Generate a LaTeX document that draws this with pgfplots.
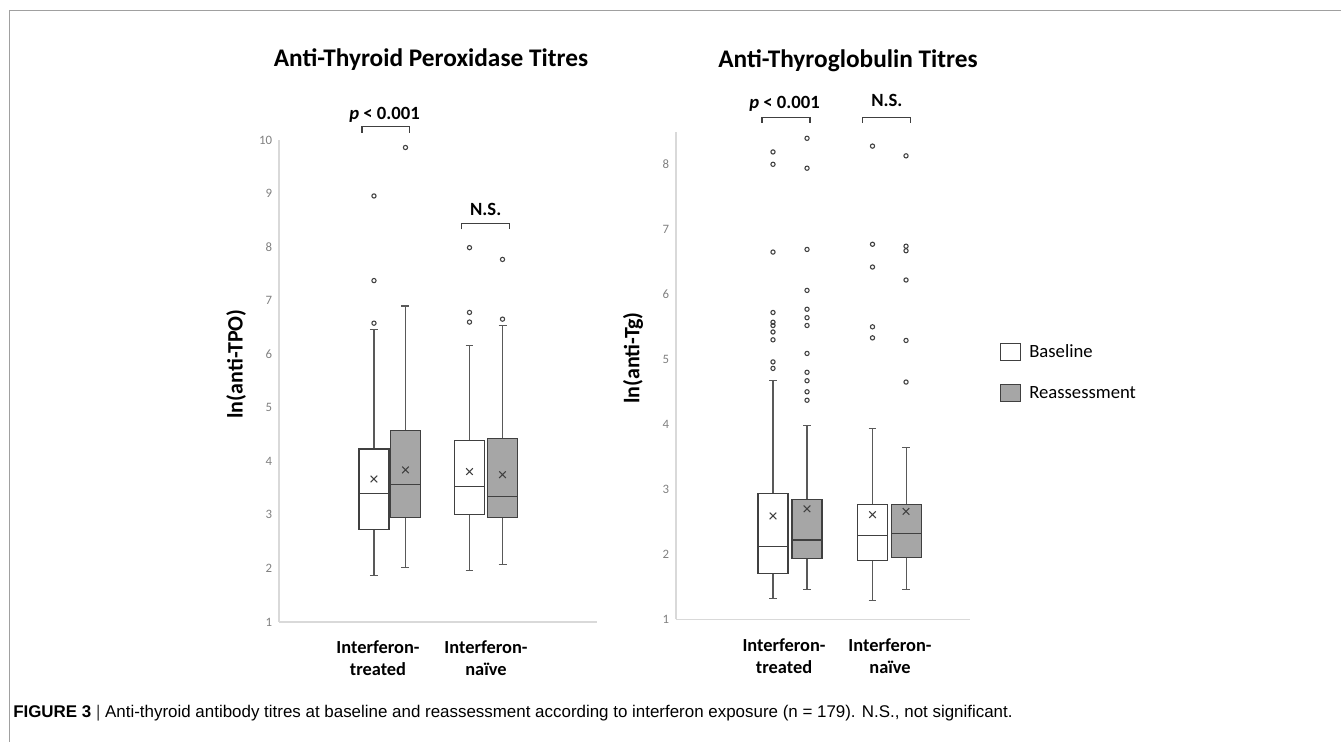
\documentclass[border=0pt]{standalone}
\usepackage{pgfplots}
\pgfplotsset{compat=1.18}
\usepgfplotslibrary{statistics}
\usepackage{fontspec}
\setmainfont{Carlito}
\newfontfamily\capfont{Liberation Sans}
\definecolor{axisgray}{HTML}{D9D9D9}
\definecolor{tickgray}{HTML}{808080}
\definecolor{boxline}{HTML}{404040}
\definecolor{whisk}{HTML}{595959}
\definecolor{refill}{HTML}{A6A6A6}
\definecolor{framegray}{HTML}{A0A0A0}

\pgfplotsset{
  sqlegend/.style={legend image code/.code={\draw[##1,line width=0.8pt] (0pt,-6.4pt) rectangle (15pt,6.4pt);}},
  myax/.style={
    scale only axis, clip=false,
    axis x line*=bottom, axis y line*=left,
    axis line style={draw=axisgray, line width=0.9pt},
    major tick length=0pt,
    /pgf/number format/assume math mode=true,
    yticklabel style={font=\fontsize{9.6}{11}\selectfont, text=tickgray, inner sep=0pt, xshift=-5pt},
    xticklabel style={font=\bfseries\fontsize{13.8}{16.5}\selectfont, align=center, inner sep=0pt, yshift=-14pt, anchor=north},
    title style={font=\bfseries\fontsize{19}{23}\selectfont, anchor=base},
    boxplot/draw direction=y,
    boxplot/every average/.style={/tikz/mark=x, /tikz/mark size=3.5pt, /tikz/mark options={draw=boxline, line width=0.65pt}},
    boxplot/every whisker/.style={draw=whisk},
    boxplot/every median/.style={draw=boxline},
  },
  bl/.style={boxplot prepared={#1}, draw=boxline, line width=0.8pt, mark=o, mark size=1.6pt,
    mark options={draw=boxline, line width=0.8pt, fill=none}, forget plot,
    boxplot/every box/.style={draw=boxline, fill=white}},
  re/.style={boxplot prepared={#1}, draw=boxline, line width=0.8pt, mark=o, mark size=1.6pt,
    mark options={draw=boxline, line width=0.8pt, fill=none}, forget plot,
    boxplot/every box/.style={draw=boxline, fill=refill}},
}

\begin{document}
\begin{tikzpicture}
\path[use as bounding box] (0pt,0pt) rectangle (1005.75pt,556.5pt);
\draw[framegray, line width=1pt] (6.75pt,548.6pt) -- (1005.75pt,548.6pt);
\draw[framegray, line width=1pt] (7.1pt,549.1pt) -- (7.1pt,0pt);

% ---------------- Left: anti-TPO ----------------
\begin{axis}[myax,
  at={(209.25pt,90pt)}, anchor=south west,
  width=238.5pt, height=361.5pt,
  xmin=-0.15625, xmax=3.15625, ymin=1, ymax=10,
  ytick={1,2,...,10},
  xtick={0.875,2},
  xticklabels={Interferon-\\treated, Interferon-\\naïve},
  title={Anti-Thyroid Peroxidase Titres},
  title style={at={(0.478,1.135)}},
  ylabel={ln(anti-TPO)},
  every axis y label/.style={font=\bfseries\fontsize{16.5}{19}\selectfont, rotate=90, anchor=center, at={(-0.135,0.535)}},
  boxplot/box extend=0.3125, boxplot/whisker extend=0.083,
]
\addplot[bl={draw position=0.833, lower whisker=1.87, lower quartile=2.72, median=3.40, upper quartile=4.23, upper whisker=6.455, average=3.67}]
  table[row sep=\\, y index=0] {data\\ 6.58\\ 7.375\\ 8.955\\};
\addplot[re={draw position=1.161, lower whisker=2.02, lower quartile=2.95, median=3.56, upper quartile=4.57, upper whisker=6.90, average=3.84}]
  table[row sep=\\, y index=0] {data\\ 9.86\\};
\addplot[bl={draw position=1.828, lower whisker=1.96, lower quartile=3.00, median=3.53, upper quartile=4.39, upper whisker=6.16, average=3.81}]
  table[row sep=\\, y index=0] {data\\ 6.60\\ 6.78\\ 7.99\\};
\addplot[re={draw position=2.172, lower whisker=2.08, lower quartile=2.95, median=3.35, upper quartile=4.42, upper whisker=6.54, average=3.75}]
  table[row sep=\\, y index=0] {data\\ 6.655\\ 7.77\\};
\draw[boxline, line width=0.9pt] (axis cs:0.708,10.136) -- (axis cs:0.708,10.248) -- (axis cs:1.203,10.248) -- (axis cs:1.203,10.136);
\node[font=\bfseries\fontsize{14}{17}\selectfont, anchor=base, inner sep=0pt] at (axis cs:0.943,10.387) {\textit{p} < 0.001};
\draw[boxline, line width=0.9pt] (axis cs:1.747,8.333) -- (axis cs:1.747,8.445) -- (axis cs:2.243,8.445) -- (axis cs:2.243,8.333);
\node[font=\bfseries\fontsize{14}{17}\selectfont, anchor=base, inner sep=0pt] at (axis cs:1.997,8.581) {N.S.};
\end{axis}

% ---------------- Right: anti-Tg ----------------
\begin{axis}[myax,
  at={(507pt,92.025pt)}, anchor=south west,
  width=220.5pt, height=365.625pt,
  xmin=-0.1457, xmax=2.809, ymin=1, ymax=8.5,
  ytick={1,2,...,8},
  xtick={0.94,2.005},
  xticklabels={Interferon-\\treated, Interferon-\\naïve},
  title={Anti-Thyroglobulin Titres},
  title style={at={(0.585,1.1165)}},
  ylabel={ln(anti-Tg)},
  every axis y label/.style={font=\bfseries\fontsize{16.5}{19}\selectfont, rotate=90, anchor=center, at={(-0.146,0.536)}},
  boxplot/box extend=0.3015, boxplot/whisker extend=0.08,
  legend style={at={(1.102,0.5668)}, anchor=north west, draw=none, fill=none, inner sep=0pt,
    row sep=17.2pt, column sep=6pt, font=\fontsize{14}{16}\selectfont, nodes={inner sep=0pt}},
  legend cell align=left,
]
\addlegendimage{sqlegend, draw=boxline, fill=white}
\addlegendentry{Baseline}
\addlegendimage{sqlegend, draw=boxline, fill=refill}
\addlegendentry{Reassessment}
\addplot[bl={draw position=0.829, lower whisker=1.32, lower quartile=1.71, median=2.12, upper quartile=2.93, upper whisker=4.67, average=2.59}]
  table[row sep=\\, y index=0] {data\\ 4.86\\ 4.96\\ 5.30\\ 5.42\\ 5.52\\ 5.57\\ 5.72\\ 6.65\\ 8.00\\ 8.19\\};
\addplot[re={draw position=1.171, lower whisker=1.46, lower quartile=1.93, median=2.22, upper quartile=2.85, upper whisker=3.98, average=2.70}]
  table[row sep=\\, y index=0] {data\\ 4.37\\ 4.50\\ 4.67\\ 4.80\\ 5.09\\ 5.52\\ 5.64\\ 5.77\\ 6.06\\ 6.69\\ 7.94\\ 8.40\\};
\addplot[bl={draw position=1.829, lower whisker=1.29, lower quartile=1.90, median=2.29, upper quartile=2.77, upper whisker=3.94, average=2.61}]
  table[row sep=\\, y index=0] {data\\ 5.33\\ 5.50\\ 6.42\\ 6.77\\ 8.28\\};
\addplot[re={draw position=2.166, lower whisker=1.46, lower quartile=1.95, median=2.32, upper quartile=2.77, upper whisker=3.65, average=2.66}]
  table[row sep=\\, y index=0] {data\\ 4.65\\ 5.29\\ 6.22\\ 6.67\\ 6.74\\ 8.13\\};
\draw[boxline, line width=0.9pt] (axis cs:0.7186,8.640) -- (axis cs:0.7186,8.723) -- (axis cs:1.201,8.723) -- (axis cs:1.201,8.640);
\node[font=\bfseries\fontsize{14}{17}\selectfont, anchor=base, inner sep=0pt] at (axis cs:0.945,8.866) {\textit{p} < 0.001};
\draw[boxline, line width=0.9pt] (axis cs:1.731,8.640) -- (axis cs:1.731,8.723) -- (axis cs:2.213,8.723) -- (axis cs:2.213,8.640);
\node[font=\bfseries\fontsize{14}{17}\selectfont, anchor=base, inner sep=0pt] at (axis cs:1.973,8.886) {N.S.};
\end{axis}

\node[anchor=base west, inner sep=0pt, font=\capfont\fontsize{12.7}{15}\selectfont] at (9.75pt,18.75pt)
  {\textbf{FIGURE 3} {\color{darkgray}|} Anti-thyroid antibody titres at baseline and reassessment according to interferon exposure (n = 179). N.S., not significant.};
\end{tikzpicture}
\end{document}
